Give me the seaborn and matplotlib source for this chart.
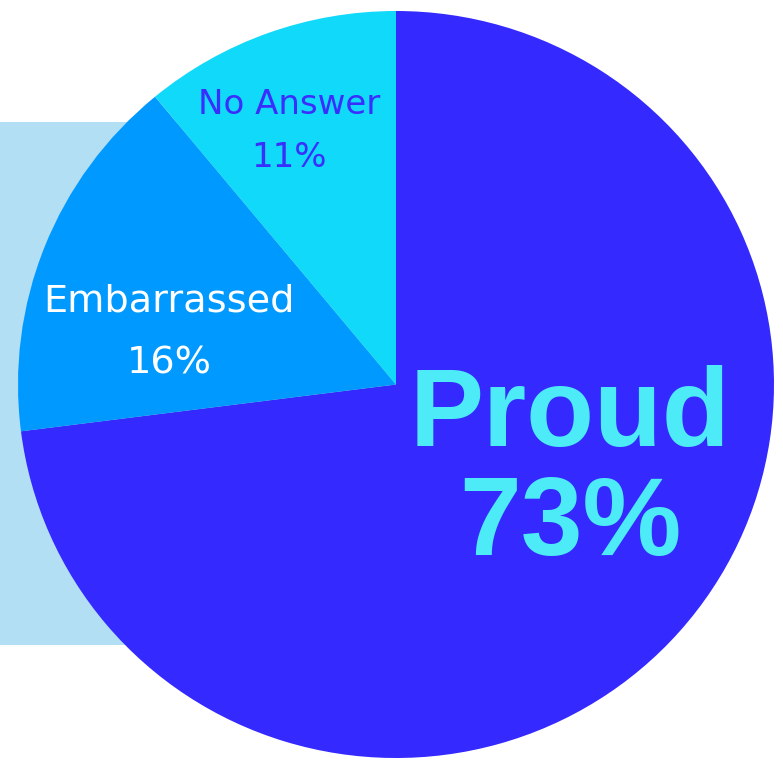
import matplotlib
matplotlib.use("Agg")
import matplotlib.pyplot as plt
import matplotlib.patches as mpatches
import seaborn as sns

# --- Data ---
categories = ["Proud", "Embarrassed", "No Answer"]
shares = [73, 16, 11]
wedge_colors = ["#3429FF", "#0099FF", "#11D9FA"]
label_colors = ["#4DEAF7", "#FFFFFF", "#3A2EFF"]

W, H = 783, 760


def py(y):
    # pixel row (from top) -> data y (from bottom)
    return H - y


sns.set_theme(style="white")
plt.rcParams["font.family"] = ["Liberation Sans", "DejaVu Sans"]

fig = plt.figure(figsize=(W / 100, H / 100), dpi=100)

# background layer: light panel behind the pie
bg = fig.add_axes([0, 0, 1, 1], zorder=0)
bg.set_xlim(0, W)
bg.set_ylim(0, H)
bg.axis("off")
bg.add_patch(mpatches.Rectangle((0, py(645)), 420, 645 - 122,
                                facecolor="#B3DFF5", edgecolor="none"))

# pie layer, box = pie bounding box in pixels (slightly oval in the source)
left, right, top, bottom = 18, 774, 11, 758
pie_ax = fig.add_axes([left / W, (H - bottom) / H, (right - left) / W, (bottom - top) / H],
                      zorder=1)
pie_ax.patch.set_alpha(0)
palette = sns.color_palette(wedge_colors)
pie_ax.pie(shares, colors=palette, startangle=90, counterclock=False,
           radius=1, wedgeprops={"linewidth": 0})
pie_ax.set_aspect("auto")
pie_ax.set_xlim(-1, 1)
pie_ax.set_ylim(-1, 1)
pie_ax.axis("off")

# text layer
tx = fig.add_axes([0, 0, 1, 1], zorder=2)
tx.patch.set_alpha(0)
tx.set_xlim(0, W)
tx.set_ylim(0, H)
tx.axis("off")

# label placement: (x, baseline_name, baseline_pct, size, weight, family)
label_pos = [
    (570, 446, 555, 80, "bold", ["Liberation Sans", "DejaVu Sans"]),
    (169, 312, 373, 27.5, "normal", ["DejaVu Sans"]),
    (289, 114, 167, 24.5, "normal", ["DejaVu Sans"]),
]

for cat, val, col, (x, yn, yp, size, weight, fam) in zip(categories, shares, label_colors, label_pos):
    tx.text(x, py(yn), cat, ha="center", va="baseline", fontsize=size,
            fontweight=weight, color=col, family=fam)
    tx.text(x, py(yp), f"{val}%", ha="center", va="baseline", fontsize=size,
            fontweight=weight, color=col, family=fam)

fig.savefig("out.png", dpi=100)
